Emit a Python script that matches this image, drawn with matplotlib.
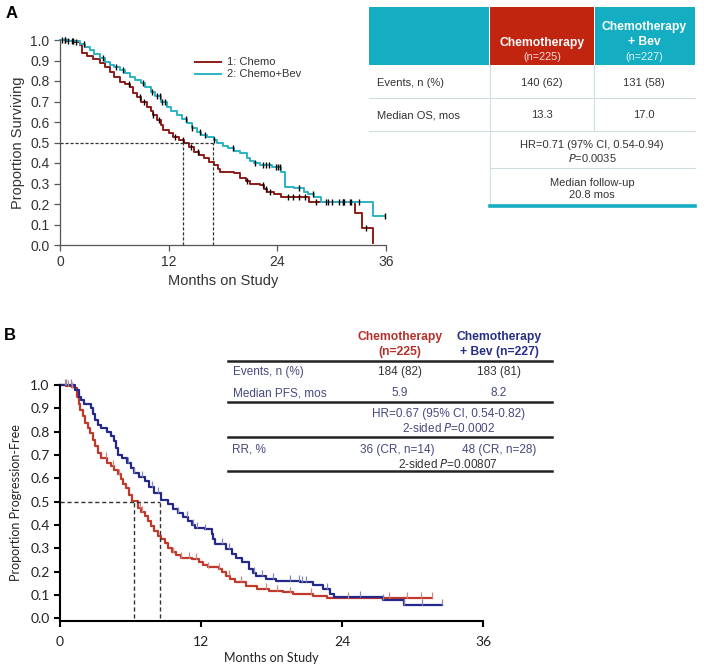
import numpy as np
import matplotlib
matplotlib.use("Agg")
import matplotlib.pyplot as plt
from matplotlib.patches import Rectangle
from matplotlib.lines import Line2D

# ---- panel A: overall survival (step points) ----
a_chemo_t = [0, 0.8, 1.5, 2.2, 2.4, 3.0, 3.6, 4.4, 5.0, 5.5, 6.0, 6.6, 7.2, 7.7, 8.1, 8.5,
             8.9, 9.6, 10.0, 10.3, 10.7, 11.1, 11.4, 12.0, 12.5, 13.1, 13.7, 14.2, 14.8,
             15.3, 15.9, 16.5, 17.0, 17.4, 17.7, 19.2, 19.9, 20.5, 21.0, 22.1, 22.5, 22.9,
             23.6, 24.4, 27.5, 32.6, 33.4, 34.6]
a_chemo_s = [1.0, 0.995, 0.99, 0.975, 0.935, 0.92, 0.905, 0.886, 0.87, 0.846, 0.82, 0.797,
             0.785, 0.772, 0.74, 0.72, 0.70, 0.675, 0.655, 0.634, 0.61, 0.585, 0.561, 0.545,
             0.528, 0.512, 0.496, 0.477, 0.455, 0.44, 0.423, 0.405, 0.39, 0.372, 0.358, 0.35,
             0.325, 0.31, 0.30, 0.293, 0.275, 0.26, 0.248, 0.236, 0.21, 0.155, 0.081, 0.008]
a_bev_t = [0, 1.0, 2.2, 2.8, 3.3, 3.8, 4.4, 5.0, 5.5, 6.0, 6.6, 7.2, 7.7, 8.3, 8.9, 9.4,
           10.0, 10.5, 11.1, 11.8, 12.3, 12.9, 13.5, 14.0, 14.6, 15.1, 15.6, 16.2, 17.0,
           17.3, 18.0, 18.5, 19.2, 19.9, 20.7, 21.0, 21.4, 22.1, 23.4, 24.4, 24.9, 25.8,
           26.9, 27.4, 28.0, 28.8, 34.6, 35.9]
a_bev_s = [1.0, 0.995, 0.98, 0.965, 0.95, 0.93, 0.91, 0.893, 0.878, 0.866, 0.854, 0.838,
           0.821, 0.805, 0.789, 0.77, 0.748, 0.725, 0.70, 0.675, 0.655, 0.634, 0.613, 0.593,
           0.573, 0.553, 0.538, 0.528, 0.512, 0.496, 0.484, 0.472, 0.46, 0.447, 0.423, 0.41,
           0.398, 0.39, 0.382, 0.358, 0.285, 0.276, 0.26, 0.248, 0.236, 0.211, 0.14, 0.14]
a_chemo_cens = [0.2, 0.5, 0.9, 1.3, 1.8, 7.6, 8.8, 9.3, 10.3, 10.9, 12.7, 13.6, 14.5, 15.2,
                20.6, 22.4, 22.8, 23.2, 25.2, 25.7, 26.4, 27.0, 28.3, 29.4, 30.0, 31.3, 32.0,
                33.8]
a_bev_cens = [0.6, 1.4, 2.6, 4.8, 6.2, 7.0, 9.2, 10.2, 10.7, 11.0, 11.3, 11.6, 13.9, 14.6,
              15.5, 16.0, 17.0, 19.1, 21.5, 22.4, 22.8, 23.1, 23.9, 24.1, 24.3, 26.4, 27.9,
              29.6, 30.8, 31.2, 31.4, 32.1, 33.0, 35.9]
a_medians = [13.6, 16.9]

# ---- panel B: progression-free survival ----
b_chemo_t = [0, 0.5, 1.0, 1.3, 1.44, 1.6, 1.72, 1.95, 2.15, 2.35, 2.58, 2.8, 3.0, 3.2, 3.45,
             4.0, 4.3, 4.6, 4.9, 5.17, 5.4, 5.6, 5.9, 6.17, 6.6, 6.9, 7.2, 7.5, 7.75, 8.0,
             8.3, 8.6, 8.9, 9.2, 9.5, 9.9, 10.3, 11.2, 11.8, 12.2, 12.6, 13.5, 13.8, 14.1,
             14.5, 14.9, 15.8, 16.8, 17.8, 19.0, 19.8, 21.5, 22.7, 31.7]
b_chemo_s = [1.0, 0.995, 0.99, 0.986, 0.95, 0.92, 0.893, 0.865, 0.836, 0.815, 0.794, 0.765,
             0.737, 0.71, 0.687, 0.666, 0.652, 0.637, 0.617, 0.595, 0.577, 0.559, 0.53, 0.502,
             0.474, 0.456, 0.438, 0.416, 0.395, 0.375, 0.353, 0.338, 0.324, 0.303, 0.282, 0.27,
             0.26, 0.253, 0.239, 0.228, 0.218, 0.211, 0.196, 0.182, 0.168, 0.154, 0.139, 0.125,
             0.118, 0.111, 0.104, 0.097, 0.087, 0.087]
b_bev_t = [0, 1.3, 1.6, 1.8, 2.0, 2.6, 2.8, 3.0, 3.2, 3.45, 4.0, 4.3, 4.6, 4.75, 4.9, 5.3,
           5.7, 6.0, 6.3, 6.7, 7.2, 7.6, 8.0, 8.6, 9.2, 9.6, 10.0, 10.5, 10.9, 11.2, 11.5,
           12.3, 12.9, 13.05, 13.2, 14.1, 14.6, 15.0, 15.5, 16.1, 16.4, 16.7, 17.5, 18.4,
           20.4, 21.5, 22.4, 23.0, 23.3, 27.5, 29.3, 32.5]
b_bev_s = [1.0, 0.98, 0.95, 0.935, 0.92, 0.90, 0.875, 0.85, 0.83, 0.815, 0.80, 0.78, 0.758,
           0.73, 0.70, 0.685, 0.666, 0.645, 0.623, 0.605, 0.587, 0.562, 0.538, 0.509, 0.488,
           0.47, 0.452, 0.435, 0.417, 0.40, 0.388, 0.381, 0.36, 0.34, 0.317, 0.296, 0.275,
           0.258, 0.239, 0.21, 0.195, 0.182, 0.168, 0.161, 0.154, 0.142, 0.125, 0.104, 0.092,
           0.077, 0.057, 0.057]
b_chemo_cens = [0.4, 0.7, 1.0, 3.9, 4.5, 5.0, 6.8, 7.0, 9.6, 10.3, 11.0, 11.6, 12.6, 13.5,
                14.4, 15.4, 17.5, 18.5, 19.6, 21.4, 24.5, 28.0, 29.5, 30.7, 31.7]
b_bev_cens = [0.5, 0.9, 5.8, 6.3, 7.0, 7.8, 8.3, 10.0, 10.8, 11.3, 11.7, 12.3, 13.8, 14.4,
              16.5, 17.2, 18.1, 19.6, 20.3, 20.6, 20.9, 22.7, 25.5, 27.5, 29.3, 30.8, 32.5]
b_medians = [6.3, 8.5]

x_ticks = [0, 12, 24, 36]
y_ticks = np.round(np.arange(0, 1.01, 0.1), 1)

RED_A = "#8e1b17"
CYAN_A = "#2bb3c3"
RED_B = "#c0392b"
BLUE_B = "#23288a"

W, H = 708, 670
fig = plt.figure(figsize=(W / 100, H / 100), dpi=100)


def fx(x):
    return x / W


def fy(y):
    return 1 - y / H


def surv_at(t, s, q):
    idx = np.searchsorted(t, q, side="right") - 1
    return np.asarray(s)[idx]


ARIAL = "Liberation Sans"

# ================= Panel A =================
axA = fig.add_axes([fx(60), fy(245), fx(386 - 60), (245 - 40) / H])
axA.step(a_chemo_t, a_chemo_s, where="post", color=RED_A, lw=1.4, clip_on=False)
axA.step(a_bev_t, a_bev_s, where="post", color=CYAN_A, lw=1.4, clip_on=False)
axA.plot(a_chemo_cens, surv_at(a_chemo_t, a_chemo_s, a_chemo_cens), ls="none",
         marker="|", ms=5, mew=1.0, color="black", clip_on=False)
axA.plot(a_bev_cens, surv_at(a_bev_t, a_bev_s, a_bev_cens), ls="none",
         marker="|", ms=5, mew=1.0, color="black", clip_on=False)
axA.plot([0, a_medians[1]], [0.5, 0.5], ls=(0, (2.5, 1.5)), color="#333333", lw=0.9)
for m in a_medians:
    axA.plot([m, m], [0, 0.5], ls=(0, (2.5, 1.5)), color="#333333", lw=0.9)
axA.set_xlim(0, 36)
axA.set_ylim(0, 1.0)
axA.set_xticks(x_ticks)
axA.set_yticks(y_ticks)
axA.set_yticklabels([f"{v:.1f}" for v in y_ticks])
for sp in ["top", "right"]:
    axA.spines[sp].set_visible(False)
for sp in ["left", "bottom"]:
    axA.spines[sp].set_color("#555555")
    axA.spines[sp].set_linewidth(0.9)
axA.tick_params(direction="out", length=4, width=0.9, color="#555555",
                labelsize=10, labelcolor="#333333")
for lab in axA.get_xticklabels() + axA.get_yticklabels():
    lab.set_fontfamily(ARIAL)
axA.set_ylabel("Proportion Surviving", fontsize=10.5, family=ARIAL, color="#333333", labelpad=4)
axA.set_xlabel("Months on Study", fontsize=10.5, family=ARIAL, color="#333333", labelpad=3)

# legend A
for y, c, lab in [(62, RED_A, "1: Chemo"), (74, CYAN_A, "2: Chemo+Bev")]:
    fig.add_artist(Line2D([fx(195), fx(221)], [fy(y), fy(y)], color=c, lw=1.4))
    fig.text(fx(227), fy(y), lab, fontsize=8, family=ARIAL, color="#333333", va="center")

fig.text(fx(6), fy(14), "A", fontsize=12, weight="bold", family=ARIAL, va="center")

# table A
TEAL = "#14adc2"
TRED = "#c1240f"
fig.add_artist(Rectangle((fx(369), fy(65)), fx(489 - 369), (65 - 7) / H, color=TEAL, lw=0))
fig.add_artist(Rectangle((fx(490), fy(65)), fx(594 - 490), (65 - 7) / H, color=TRED, lw=0))
fig.add_artist(Rectangle((fx(595), fy(65)), fx(695 - 595), (65 - 7) / H, color=TEAL, lw=0))
grey = "#d0dde0"
for y, x0 in [(98, 369), (131, 369), (168, 490)]:
    fig.add_artist(Line2D([fx(x0), fx(695)], [fy(y), fy(y)], color=grey, lw=0.8))
fig.add_artist(Line2D([fx(490), fx(490)], [fy(65), fy(205)], color=grey, lw=0.8))
fig.add_artist(Line2D([fx(594), fx(594)], [fy(65), fy(131)], color=grey, lw=0.8))
fig.add_artist(Line2D([fx(490), fx(695)], [fy(206), fy(206)], color=TEAL, lw=2.6))

hdr = dict(color="white", ha="center", va="center", family=ARIAL)
fig.text(fx(542), fy(43), "Chemotherapy", fontsize=8.7, weight="bold", **hdr)
fig.text(fx(542), fy(57), "(n=225)", fontsize=7.8, alpha=0.85, **hdr)
fig.text(fx(644), fy(27), "Chemotherapy", fontsize=8.7, weight="bold", **hdr)
fig.text(fx(644), fy(42), "+ Bev", fontsize=8.7, weight="bold", **hdr)
fig.text(fx(644), fy(57), "(n=227)", fontsize=7.8, alpha=0.85, **hdr)

cell = dict(fontsize=8, family=ARIAL, color="#333333", va="center")
fig.text(fx(377), fy(83), "Events, n (%)", **cell)
fig.text(fx(377), fy(115), "Median OS, mos", **cell)
fig.text(fx(542), fy(83), "140 (62)", ha="center", **cell)
fig.text(fx(644), fy(83), "131 (58)", ha="center", **cell)
fig.text(fx(542), fy(115), "13.3", ha="center", **cell)
fig.text(fx(644), fy(115), "17.0", ha="center", **cell)
fig.text(fx(592), fy(145), "HR=0.71 (97% CI, 0.54-0.94)", ha="center", **cell)
fig.text(fx(592), fy(158), r"$\it{P}$=0.0035", ha="center", **cell)
fig.text(fx(592), fy(183), "Median follow-up", ha="center", **cell)
fig.text(fx(592), fy(195), "20.8 mos", ha="center", **cell)

# ================= Panel B =================
CAL = "Lato"
axB = fig.add_axes([fx(60), fy(621), fx(483 - 60), (621 - 385) / H])
axB.step(b_chemo_t, b_chemo_s, where="post", color=RED_B, lw=1.6, clip_on=False)
axB.step(b_bev_t, b_bev_s, where="post", color=BLUE_B, lw=1.6, clip_on=False)
axB.plot(b_chemo_cens, surv_at(b_chemo_t, b_chemo_s, b_chemo_cens) + 0.012, ls="none",
         marker="|", ms=5, mew=0.9, color="#c98880", clip_on=False)
axB.plot(b_bev_cens, surv_at(b_bev_t, b_bev_s, b_bev_cens) + 0.012, ls="none",
         marker="|", ms=5, mew=0.9, color="#8088b8", clip_on=False)
axB.plot([0, b_medians[1]], [0.5, 0.5], ls=(0, (3, 2)), color="#333333", lw=1.0)
for m in b_medians:
    axB.plot([m, m], [0, 0.5], ls=(0, (3, 2)), color="#333333", lw=1.0)
axB.set_xlim(0, 36)
axB.set_ylim(-0.012, 1.0)
axB.set_xticks(x_ticks)
axB.set_yticks(y_ticks)
axB.set_yticklabels([f"{v:.1f}" for v in y_ticks])
for sp in ["top", "right"]:
    axB.spines[sp].set_visible(False)
for sp in ["left", "bottom"]:
    axB.spines[sp].set_color("black")
    axB.spines[sp].set_linewidth(1.5)
axB.tick_params(direction="out", length=4, width=1.5, labelsize=10, labelcolor="#222222")
axB.tick_params(axis="x", pad=7)
for lab in axB.get_xticklabels() + axB.get_yticklabels():
    lab.set_fontfamily(CAL)
axB.set_ylabel("Proportion Progression-Free", fontsize=9, family=CAL, color="#222222", labelpad=6)
axB.set_xlabel("Months on Study", fontsize=9, family=CAL, color="#222222", labelpad=3)

fig.text(fx(4), fy(336), "B", fontsize=12, weight="bold", family=ARIAL, va="center")

# table B
for y in [361, 402, 437, 471]:
    fig.add_artist(Line2D([fx(228), fx(552)], [fy(y), fy(y)], color="#222222", lw=1.8))
fig.text(fx(400), fy(337), "Chemotherapy", fontsize=8.7, weight="bold", color="#b3302a",
         ha="center", va="center", family=ARIAL)
fig.text(fx(400), fy(352), "(n=225)", fontsize=8.7, weight="bold", color="#b3302a",
         ha="center", va="center", family=ARIAL)
fig.text(fx(499), fy(337), "Chemotherapy", fontsize=8.7, weight="bold", color="#262e86",
         ha="center", va="center", family=ARIAL)
fig.text(fx(499), fy(352), "+ Bev (n=227)", fontsize=8.7, weight="bold", color="#262e86",
         ha="center", va="center", family=ARIAL)
lab_b = dict(fontsize=8.5, family=ARIAL, color="#45497e", va="center")
val_b = dict(fontsize=8.5, family=ARIAL, color="#333333", va="center", ha="center")
fig.text(fx(233), fy(372), "Events, n (%)", **lab_b)
fig.text(fx(233), fy(393), "Median PFS, mos", **lab_b)
fig.text(fx(232), fy(450), "RR, %", **lab_b)
fig.text(fx(400), fy(372), "184 (82)", **val_b)
fig.text(fx(499), fy(372), "183 (81)", **val_b)
fig.text(fx(400), fy(393), "5.9", **dict(val_b, color="#45497e"))
fig.text(fx(499), fy(393), "8.2", **dict(val_b, color="#45497e"))
fig.text(fx(449), fy(414), "HR=0.67 (95% CI, 0.54-0.82)", **dict(val_b, color="#45497e"))
fig.text(fx(449), fy(429), r"2-sided $\it{P}$=0.0002", **dict(val_b, color="#45497e"))
fig.text(fx(397), fy(450), "36 (CR, n=14)", **dict(val_b, color="#45497e"))
fig.text(fx(499), fy(450), "48 (CR, n=28)", **dict(val_b, color="#45497e"))
fig.text(fx(448), fy(464), r"2-sided $\it{P}$=0.00807", **val_b)

fig.savefig("out.png", dpi=100)
